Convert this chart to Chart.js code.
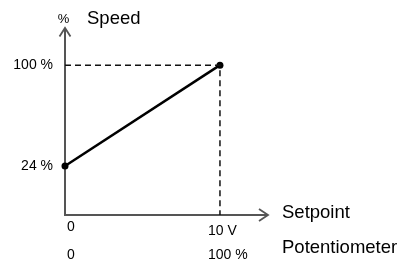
<!DOCTYPE html>
<html>
<head>
<meta charset="utf-8">
<script src="https://cdn.jsdelivr.net/npm/chart.js@4"></script>
<style>
html,body{margin:0;padding:0;background:#fff;}
#wrap{width:402px;height:259px;}
</style>
</head>
<body>
<div id="wrap"><canvas id="c" width="402" height="259"></canvas></div>
<script>
// Data
const setpointVolts = [0, 10];
const speedPercent = [24, 100];
const yTickValues = [24, 100];
const yTickLabels = ['24 %', '100 %'];
const xTickValues = [0, 10];
const xTickLabels = ['0', '10 V'];
const potTickLabels = ['0', '100 %'];
const yAxisUnit = '%';
const yAxisTitle = 'Speed';
const xAxisTitle = 'Setpoint';
const xAxisTitle2 = 'Potentiometer';

const X_MIN = 0, X_MAX = 13.1, Y_MIN = -13, Y_MAX = 128;

const FONT = '"Liberation Sans", Arial, Helvetica, sans-serif';

const linePoints = setpointVolts.map((v, i) => ({x: v, y: speedPercent[i]}));
const last = linePoints[linePoints.length - 1];
const guidePoints = [{x: X_MIN, y: last.y}, {x: last.x, y: last.y}, {x: last.x, y: Y_MIN}];

const axesPlugin = {
  id: 'axesPlugin',
  beforeDatasetsDraw(chart) {
    const {ctx, scales: {x, y}} = chart;
    const x0 = x.getPixelForValue(X_MIN);
    const y0 = y.getPixelForValue(Y_MIN);
    const yTop = y.getPixelForValue(Y_MAX);
    const xRight = x.getPixelForValue(X_MAX);
    ctx.save();
    ctx.strokeStyle = '#555';
    ctx.lineWidth = 2;
    ctx.lineCap = 'butt';
    ctx.beginPath();
    ctx.moveTo(x0, y0 + 1);
    ctx.lineTo(x0, yTop + 1);
    ctx.moveTo(x0 - 1, y0);
    ctx.lineTo(xRight - 1, y0);
    ctx.stroke();
    // arrowheads
    ctx.lineWidth = 1.8;
    ctx.lineJoin = 'miter';
    ctx.beginPath();
    ctx.moveTo(x0 - 5.5, yTop + 8.5);
    ctx.lineTo(x0, yTop);
    ctx.lineTo(x0 + 5.5, yTop + 8.5);
    ctx.moveTo(xRight - 9, y0 - 6);
    ctx.lineTo(xRight, y0);
    ctx.lineTo(xRight - 9, y0 + 6);
    ctx.stroke();
    ctx.restore();
  },
  afterDraw(chart) {
    const {ctx, scales: {x, y}} = chart;
    const x0 = x.getPixelForValue(X_MIN);
    const y0 = y.getPixelForValue(Y_MIN);
    const yTop = y.getPixelForValue(Y_MAX);
    const xRight = x.getPixelForValue(X_MAX);
    ctx.save();
    ctx.fillStyle = '#000';
    // y unit + title
    ctx.font = '13px ' + FONT;
    ctx.textAlign = 'center';
    ctx.textBaseline = 'alphabetic';
    ctx.fillText(yAxisUnit, x0 - 1.5, yTop - 5);
    ctx.font = '18.5px ' + FONT;
    ctx.textAlign = 'left';
    ctx.fillText(yAxisTitle, x0 + 22, yTop - 4.5);
    // y ticks
    ctx.font = '14px ' + FONT;
    ctx.textAlign = 'right';
    ctx.textBaseline = 'middle';
    yTickValues.forEach((v, i) => {
      ctx.fillText(yTickLabels[i], x0 - 12, y.getPixelForValue(v));
    });
    // x ticks rows
    ctx.textAlign = 'left';
    ctx.textBaseline = 'alphabetic';
    xTickValues.forEach((v, i) => {
      const px = x.getPixelForValue(v);
      const left = i === 0 ? px + 2 : px - 12;
      ctx.fillText(xTickLabels[i], left, y0 + (i === 0 ? 16 : 20));
      ctx.fillText(potTickLabels[i], left, y0 + 43.5);
    });
    // x titles
    ctx.font = '18.5px ' + FONT;
    ctx.fillText(xAxisTitle, xRight + 14, y0 + 3);
    ctx.fillText(xAxisTitle2, xRight + 14, y0 + 37.5);
    ctx.restore();
  }
};

new Chart(document.getElementById('c'), {
  type: 'scatter',
  data: {
    datasets: [
      {
        data: guidePoints,
        showLine: true,
        borderColor: '#111',
        borderWidth: 1.5,
        borderDash: [6, 4],
        pointRadius: 0,
        fill: false,
        clip: false
      },
      {
        data: linePoints,
        showLine: true,
        borderColor: '#000',
        backgroundColor: '#000',
        borderWidth: 2.5,
        pointRadius: 3.5,
        pointBorderWidth: 0,
        fill: false,
        clip: false
      }
    ]
  },
  options: {
    responsive: false,
    devicePixelRatio: 1,
    animation: false,
    layout: {padding: {left: 65, right: 134, top: 28, bottom: 44}},
    plugins: {legend: {display: false}, tooltip: {enabled: false}, title: {display: false}},
    scales: {
      x: {type: 'linear', min: X_MIN, max: X_MAX, display: false},
      y: {type: 'linear', min: Y_MIN, max: Y_MAX, display: false}
    }
  },
  plugins: [axesPlugin]
});
</script>
</body>
</html>
